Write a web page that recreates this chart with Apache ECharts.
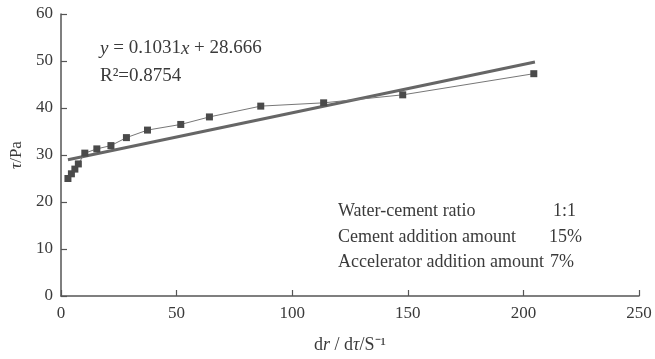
<!DOCTYPE html>
<html><head><meta charset="utf-8">
<script src="https://cdn.jsdelivr.net/npm/echarts@6/dist/echarts.min.js"></script>
<style>html,body{margin:0;padding:0;background:#fff}#c{width:655px;height:359px}</style>
</head><body><div id="c"></div>
<script>
// measured data (shear rate, shear stress)
var shearRate = [3, 4.5, 6, 7.5, 10.3, 15.5, 21.6, 28.3, 37.4, 51.8, 64.2, 86.4, 113.6, 147.8, 204.5];
var shearStress = [25.0, 26.0, 27.0, 28.1, 30.4, 31.3, 32.0, 33.7, 35.3, 36.5, 38.1, 40.4, 41.1, 42.8, 47.3];
// fitted line endpoints
var fitX = [3, 205];
var fitY = [28.97, 49.8];
var xTicks = [0, 50, 100, 150, 200, 250];
var yTicks = [0, 10, 20, 30, 40, 50, 60];

var serif = '"Liberation Serif", "Times New Roman", serif';
var chart = echarts.init(document.getElementById('c'), null, {renderer: 'canvas'});
var axisColor = '#555';
var txt = '#3a3a3a';
chart.setOption({
  animation: false,
  backgroundColor: '#fff',
  grid: {left: 61, right: 16, top: 14, bottom: 62, containLabel: false},
  xAxis: {
    type: 'value', min: xTicks[0], max: xTicks[xTicks.length - 1], interval: xTicks[1] - xTicks[0],
    axisLine: {lineStyle: {color: axisColor, width: 1.5}},
    axisTick: {inside: true, length: 6, lineStyle: {color: axisColor, width: 1.2}},
    axisLabel: {color: txt, fontFamily: serif, fontSize: 17, margin: 9},
    splitLine: {show: false},
    name: 'd{i|r} / d{i|τ}/S⁻¹', nameLocation: 'middle', nameGap: 40,
    nameTextStyle: {color: txt, fontFamily: serif, fontSize: 18,
      rich: {i: {fontStyle: 'italic', fontFamily: serif, fontSize: 18, color: txt}}}
  },
  yAxis: {
    type: 'value', min: yTicks[0], max: yTicks[yTicks.length - 1], interval: yTicks[1] - yTicks[0],
    axisLine: {show: true, lineStyle: {color: axisColor, width: 1.5}},
    axisTick: {show: true, inside: true, length: 6, lineStyle: {color: axisColor, width: 1.2}},
    axisLabel: {color: txt, fontFamily: serif, fontSize: 17, margin: 8},
    splitLine: {show: false},
    name: '{i|τ}/Pa', nameLocation: 'middle', nameGap: 32, nameRotate: 90,
    nameTextStyle: {color: txt, fontFamily: serif, fontSize: 17,
      rich: {i: {fontStyle: 'italic', fontFamily: serif, fontSize: 17, color: txt}}}
  },
  series: [
    {
      type: 'line', data: shearRate.map(function (x, i) { return [x, shearStress[i]]; }),
      symbol: 'rect', symbolSize: 7, showAllSymbol: true,
      lineStyle: {color: '#777', width: 1},
      itemStyle: {color: '#4a4a4a'}, z: 3
    },
    {
      type: 'line', data: fitX.map(function (x, i) { return [x, fitY[i]]; }),
      symbol: 'none', lineStyle: {color: '#666', width: 3}, z: 2
    }
  ],
  graphic: [
    {type: 'text', left: 100, top: 39, style: {text: '{i|y} = 0.1031{i|x} + 28.666', fill: txt, font: '19px ' + serif,
      rich: {i: {fontStyle: 'italic', fontFamily: serif, fontSize: 19, fill: txt}}}},
    {type: 'text', left: 100, top: 67, style: {text: 'R²=0.8754', fill: txt, font: '19px ' + serif}},
    {type: 'text', left: 338, top: 202, style: {text: 'Water-cement ratio', fill: txt, font: '18px ' + serif}},
    {type: 'text', left: 553, top: 202, style: {text: '1:1', fill: txt, font: '18px ' + serif}},
    {type: 'text', left: 338, top: 228, style: {text: 'Cement addition amount', fill: txt, font: '18px ' + serif}},
    {type: 'text', left: 549, top: 228, style: {text: '15%', fill: txt, font: '18px ' + serif}},
    {type: 'text', left: 338, top: 253, style: {text: 'Accelerator addition amount', fill: txt, font: '18px ' + serif}},
    {type: 'text', left: 550, top: 253, style: {text: '7%', fill: txt, font: '18px ' + serif}}
  ]
});
</script></body></html>
